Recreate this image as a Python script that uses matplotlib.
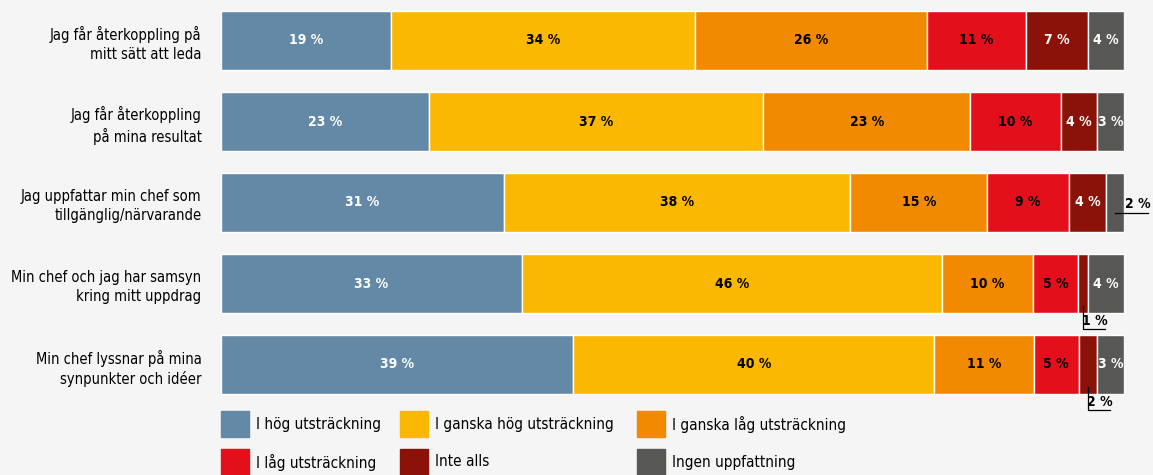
import pandas as pd
import matplotlib.pyplot as plt
from matplotlib.patches import Rectangle

plt.rcParams['font.family'] = ['DejaVu Sans']
plt.rcParams['font.stretch'] = 'condensed'

# survey statements, top to bottom
categories = [
    'Jag får återkoppling på\nmitt sätt att leda',
    'Jag får återkoppling\npå mina resultat',
    'Jag uppfattar min chef som\ntillgänglig/närvarande',
    'Min chef och jag har samsyn\nkring mitt uppdrag',
    'Min chef lyssnar på mina\nsynpunkter och idéer',
]

# answer shares in percent
hog = [19, 23, 31, 33, 39]
ganska_hog = [34, 37, 38, 46, 40]
ganska_lag = [26, 23, 15, 10, 11]
lag = [11, 10, 9, 5, 5]
inte_alls = [7, 4, 4, 1, 2]
ingen = [4, 3, 2, 4, 3]

series_names = ['I hög utsträckning', 'I ganska hög utsträckning', 'I ganska låg utsträckning',
                'I låg utsträckning', 'Inte alls', 'Ingen uppfattning']
colors = ['#6389a6', '#fbb800', '#f18a00', '#e30f1b', '#8a1208', '#575756']
text_colors = ['white', 'black', 'black', 'black', 'white', 'white']

df = pd.DataFrame({n: v for n, v in zip(series_names,
                                         [hog, ganska_hog, ganska_lag, lag, inte_alls, ingen])})
# scale every row to fill the full bar
df_norm = df.div(df.sum(axis=1), axis=0) * 100

bg = '#f4f5f4'
fig = plt.figure(figsize=(11.53, 4.75), dpi=100, facecolor=bg)
ax = fig.add_axes([221 / 1153, 1 - 405 / 475, 903 / 1153, 405 / 475])
ax.set_facecolor(bg)

ypos = list(range(len(categories)))
left = [0.0] * len(categories)
for k, name in enumerate(series_names):
    widths = df_norm[name].tolist()
    ax.barh(ypos, widths, left=left, height=0.73, color=colors[k],
            edgecolor='white', linewidth=1.0)
    for i, (w, l) in enumerate(zip(widths, left)):
        v = df[name].iloc[i]
        cx = l + w / 2
        lbl = f'{v} %'
        if v >= 3:
            ax.text(cx, i, lbl, ha='center', va='center', color=text_colors[k],
                    fontsize=10, fontweight='bold')
        elif k == len(series_names) - 1:
            # small last segment: label to the right with an underline
            ax.plot([cx, l + w + 2.7], [i + 0.13, i + 0.13], color='black', lw=0.9,
                    clip_on=False)
            ax.text(l + w + 1.5, i + 0.1, lbl, ha='center', va='bottom', color='black',
                    fontsize=10, fontweight='bold', clip_on=False)
        else:
            # small inner segment: elbow callout below the bar
            ax.plot([cx, cx, cx + 2.4], [i + 0.28, i + 0.56, i + 0.56], color='black',
                    lw=0.9, clip_on=False)
            ax.text(cx + 1.3, i + 0.46, lbl, ha='center', va='center', color='black',
                    fontsize=10, fontweight='bold', clip_on=False)
    left = [a + b for a, b in zip(left, widths)]

ax.set_xlim(0, 100)
ax.set_ylim(len(categories) - 0.5, -0.5)
ax.set_xticks([])
ax.set_yticks(ypos)
ax.set_yticklabels(categories, fontsize=10.5, linespacing=1.35)
ax.tick_params(axis='y', length=0, pad=14)
for s in ax.spines.values():
    s.set_visible(False)

# legend in two rows of three
col_x = [221, 400, 637]
row_y = [424, 462]
for idx, name in enumerate(series_names):
    r, c = divmod(idx, 3)
    x0, yc = col_x[c], row_y[r]
    fig.patches.append(Rectangle((x0 / 1153, 1 - (yc + 13) / 475), 28 / 1153, 26 / 475,
                                 transform=fig.transFigure, color=colors[idx]))
    fig.text((x0 + 35) / 1153, 1 - yc / 475, name, ha='left', va='center', fontsize=11)

fig.savefig('out.png', dpi=100, facecolor=bg)
